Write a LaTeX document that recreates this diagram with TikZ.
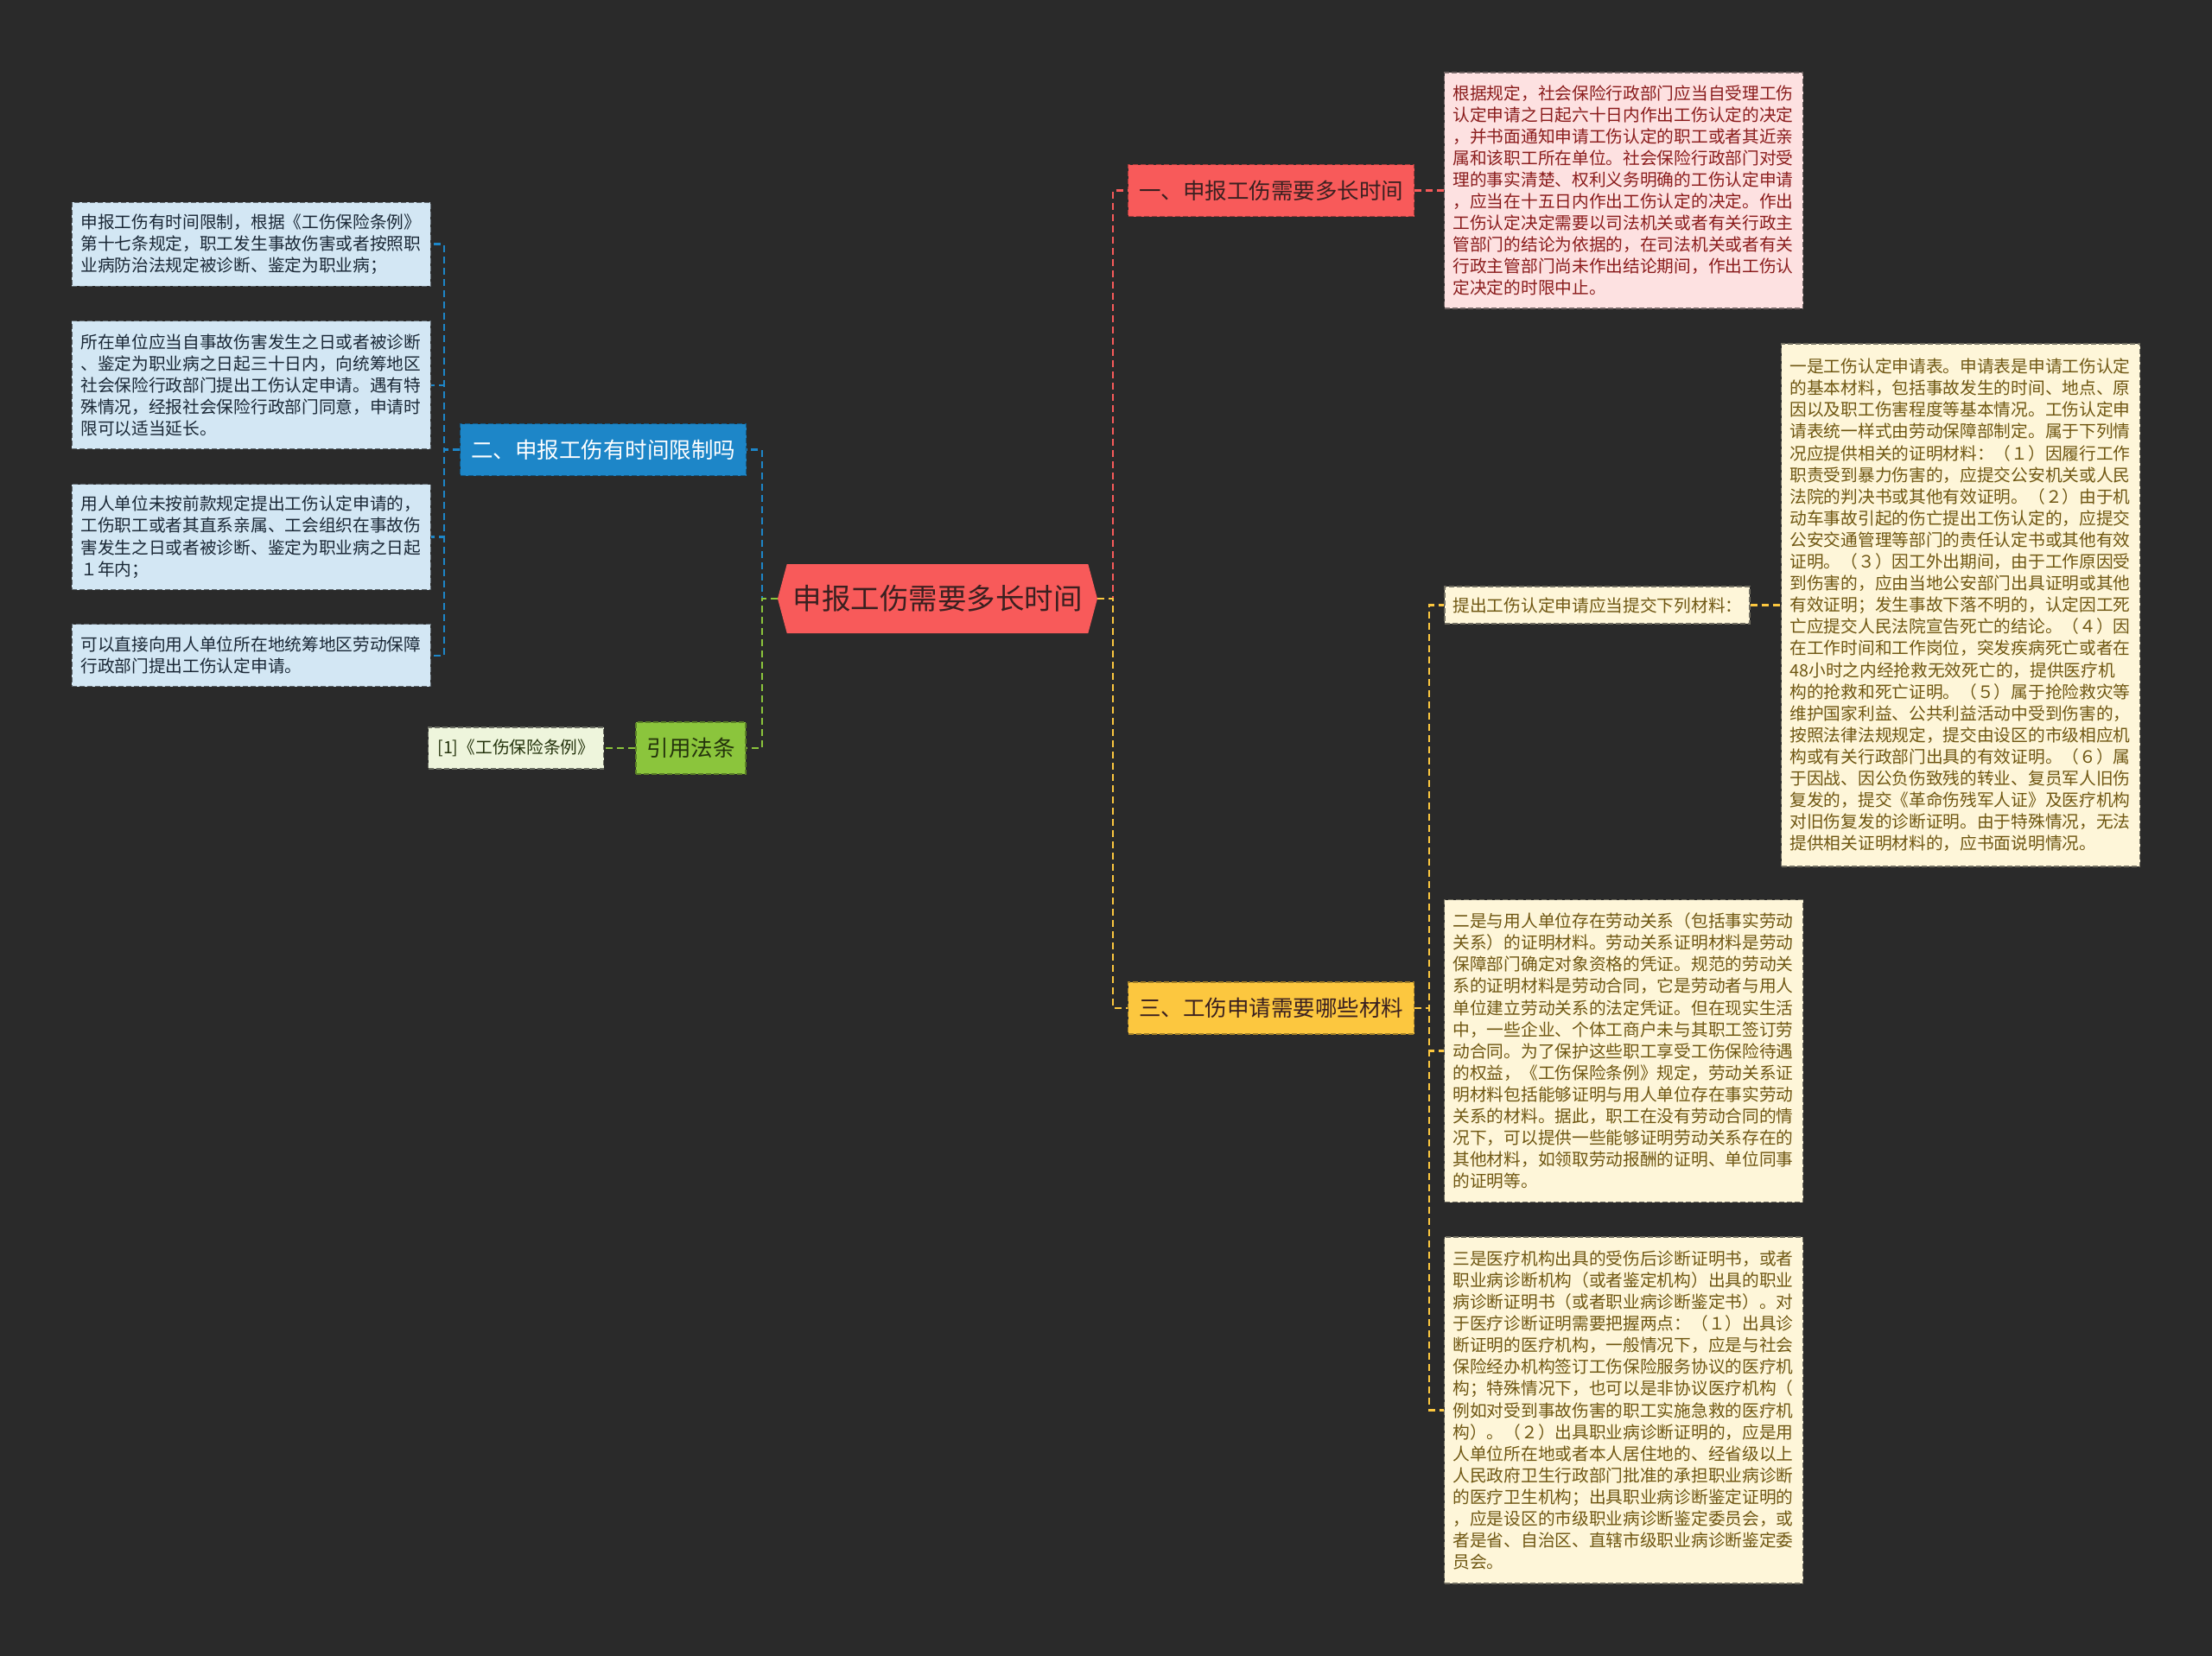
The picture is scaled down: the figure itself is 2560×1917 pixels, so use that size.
\documentclass[tikz,border=0pt]{standalone}
\usepackage{fontspec}
\setmainfont{Noto Sans CJK SC}
\usepackage{xcolor}
\usetikzlibrary{positioning, shapes.symbols}

\definecolor{bgdark}{HTML}{2A2A2A}
\definecolor{rootred}{HTML}{F85A5A}
\definecolor{topicblue}{HTML}{1D86C8}
\definecolor{topicyellow}{HTML}{FCC73F}
\definecolor{topicgreen}{HTML}{8BC53C}
\definecolor{notepink}{HTML}{FDE1E1}
\definecolor{noteyellow}{HTML}{FEF6D9}
\definecolor{noteblue}{HTML}{D3E7F4}
\definecolor{notegreen}{HTML}{EEF5DC}
\definecolor{inkred}{HTML}{8A1C1C}
\definecolor{inkbrown}{HTML}{6F5712}
\definecolor{inkblue}{HTML}{1A2836}
\definecolor{inkdark}{HTML}{3A2020}
\definecolor{inkolive}{HTML}{24330C}

\begin{document}
\begin{tikzpicture}[
				x=1pt, y=-1pt,
				rootnode/.style={signal, signal to=west and east, signal pointer angle=150, fill=rootred, text=inkdark, font=\fontsize{33.5}{36}\selectfont, minimum width=370, minimum height=80, inner sep=0pt},
				topicbox/.style={rectangle, fill=#1, draw=#1!65!black, dash pattern=on 6pt off 3pt, line width=1.2pt, minimum height=60, inner xsep=12.5pt, font=\fontsize{25.5}{28}\selectfont},
				notebox/.style={rectangle, fill=#1, draw=#1!45!black, dash pattern=on 6pt off 3pt, line width=1.2pt, text width=395pt, inner xsep=10pt, inner ysep=0pt, align=left, font=\fontsize{19.7}{25.1}\selectfont},
				citebox/.style={rectangle, fill=notegreen, draw=notegreen!45!black, dash pattern=on 6pt off 3pt, line width=1.2pt, text=inkolive, inner xsep=8pt, minimum width=203, minimum height=48, font=\fontsize{19.7}{25.1}\selectfont},
				linkline/.style={draw=#1, line width=2.5pt, dash pattern=on 8pt off 5pt}
				]
				
				\fill[bgdark] (0,0) rectangle (2560,1917);
				\useasboundingbox (0,0) rectangle (2560,1917);
				
				\node[rootnode] (root) at (1085,693) {申报工伤需要多长时间};
				
				\node[topicbox=rootred, text=inkdark, minimum width=330] (b1) at (1471,220.5) {一、申报工伤需要多长时间};
				\node[topicbox=topicblue, text=white, minimum width=328] (b2) at (698,520.5) {二、申报工伤有时间限制吗};
				\node[topicbox=topicyellow, text=inkdark, minimum width=330] (b3) at (1471,1167) {三、工伤申请需要哪些材料};
				\node[topicbox=topicgreen, text=inkolive, minimum width=127] (b4) at (799.5,866) {引用法条};
				
				\node[citebox, left=36pt of b4] (cite) {[1]《工伤保险条例》};
				
				\node[notebox=notepink, text=inkred, minimum height=273] (redbox) at (1879,220.5) {根据规定，社会保险行政部门应当自受理工伤\\认定申请之日起六十日内作出工伤认定的决定\\，并书面通知申请工伤认定的职工或者其近亲\\属和该职工所在单位。社会保险行政部门对受\\理的事实清楚、权利义务明确的工伤认定申请\\，应当在十五日内作出工伤认定的决定。作出\\工伤认定决定需要以司法机关或者有关行政主\\管部门的结论为依据的，在司法机关或者有关\\行政主管部门尚未作出结论期间，作出工伤认\\定决定的时限中止。};
				
				\node[notebox=noteyellow, text=inkbrown, text width=334pt, inner xsep=9.5pt, minimum height=43] (reqbox) at (1848.5,700.5) {提出工伤认定申请应当提交下列材料：};
				\node[notebox=noteyellow, text=inkbrown, minimum height=605] (bigbox) at (2269,700.5) {一是工伤认定申请表。申请表是申请工伤认定\\的基本材料，包括事故发生的时间、地点、原\\因以及职工伤害程度等基本情况。工伤认定申\\请表统一样式由劳动保障部制定。属于下列情\\况应提供相关的证明材料：（１）因履行工作\\职责受到暴力伤害的，应提交公安机关或人民\\法院的判决书或其他有效证明。（２）由于机\\动车事故引起的伤亡提出工伤认定的，应提交\\公安交通管理等部门的责任认定书或其他有效\\证明。（３）因工外出期间，由于工作原因受\\到伤害的，应由当地公安部门出具证明或其他\\有效证明；发生事故下落不明的，认定因工死\\亡应提交人民法院宣告死亡的结论。（４）因\\在工作时间和工作岗位，突发疾病死亡或者在\\48小时之内经抢救无效死亡的，提供医疗机\\构的抢救和死亡证明。（５）属于抢险救灾等\\维护国家利益、公共利益活动中受到伤害的，\\按照法律法规规定，提交由设区的市级相应机\\构或有关行政部门出具的有效证明。（６）属\\于因战、因公负伤致残的转业、复员军人旧伤\\复发的，提交《革命伤残军人证》及医疗机构\\对旧伤复发的诊断证明。由于特殊情况，无法\\提供相关证明材料的，应书面说明情况。};
				\node[notebox=noteyellow, text=inkbrown, minimum height=350] (box2) at (1879,1216.7) {二是与用人单位存在劳动关系（包括事实劳动\\关系）的证明材料。劳动关系证明材料是劳动\\保障部门确定对象资格的凭证。规范的劳动关\\系的证明材料是劳动合同，它是劳动者与用人\\单位建立劳动关系的法定凭证。但在现实生活\\中，一些企业、个体工商户未与其职工签订劳\\动合同。为了保护这些职工享受工伤保险待遇\\的权益，《工伤保险条例》规定，劳动关系证\\明材料包括能够证明与用人单位存在事实劳动\\关系的材料。据此，职工在没有劳动合同的情\\况下，可以提供一些能够证明劳动关系存在的\\其他材料，如领取劳动报酬的证明、单位同事\\的证明等。};
				\node[notebox=noteyellow, text=inkbrown, minimum height=401] (box3) at (1879,1632.5) {三是医疗机构出具的受伤后诊断证明书，或者\\职业病诊断机构（或者鉴定机构）出具的职业\\病诊断证明书（或者职业病诊断鉴定书）。对\\于医疗诊断证明需要把握两点：（１）出具诊\\断证明的医疗机构，一般情况下，应是与社会\\保险经办机构签订工伤保险服务协议的医疗机\\构；特殊情况下，也可以是非协议医疗机构（\\例如对受到事故伤害的职工实施急救的医疗机\\构）。（２）出具职业病诊断证明的，应是用\\人单位所在地或者本人居住地的、经省级以上\\人民政府卫生行政部门批准的承担职业病诊断\\的医疗卫生机构；出具职业病诊断鉴定证明的\\，应是设区的市级职业病诊断鉴定委员会，或\\者是省、自治区、直辖市级职业病诊断鉴定委\\员会。};
				
				\node[notebox=noteblue, text=inkblue, minimum height=97] (l1) at (290.8,282.7) {申报工伤有时间限制，根据《工伤保险条例》\\第十七条规定，职工发生事故伤害或者按照职\\业病防治法规定被诊断、鉴定为职业病；};
				\node[notebox=noteblue, text=inkblue, minimum height=148] (l2) at (290.8,445.8) {所在单位应当自事故伤害发生之日或者被诊断\\、鉴定为职业病之日起三十日内，向统筹地区\\社会保险行政部门提出工伤认定申请。遇有特\\殊情况，经报社会保险行政部门同意，申请时\\限可以适当延长。};
				\node[notebox=noteblue, text=inkblue, minimum height=122] (l3) at (290.8,621.7) {用人单位未按前款规定提出工伤认定申请的，\\工伤职工或者其直系亲属、工会组织在事故伤\\害发生之日或者被诊断、鉴定为职业病之日起\\１年内；};
				\node[notebox=noteblue, text=inkblue, minimum height=72] (l4) at (290.8,758.8) {可以直接向用人单位所在地统筹地区劳动保障\\行政部门提出工伤认定申请。};
				
				\draw[linkline=rootred] (root.east) -- ++(18,0) |- (b1.west);
				\draw[linkline=topicyellow] (root.east) -- ++(18,0) |- (b3.west);
				\draw[linkline=topicblue] (root.west) -- ++(-18,0) |- (b2.east);
				\draw[linkline=topicgreen] (root.west) -- ++(-18,0) |- (b4.east);
				
				\draw[linkline=rootred] (b1) -- (redbox);
				\foreach \leaf in {l1,l2,l3,l4}
					\draw[linkline=topicblue] (b2.west) -- ++(-18,0) |- (\leaf.east);
				\draw[linkline=topicgreen] (b4) -- (cite);
				\foreach \leaf in {reqbox,box2,box3}
					\draw[linkline=topicyellow] (b3.east) -- ++(17,0) |- (\leaf.west);
				\draw[linkline=topicyellow] (reqbox) -- (bigbox);
				
			\end{tikzpicture}
\end{document}
